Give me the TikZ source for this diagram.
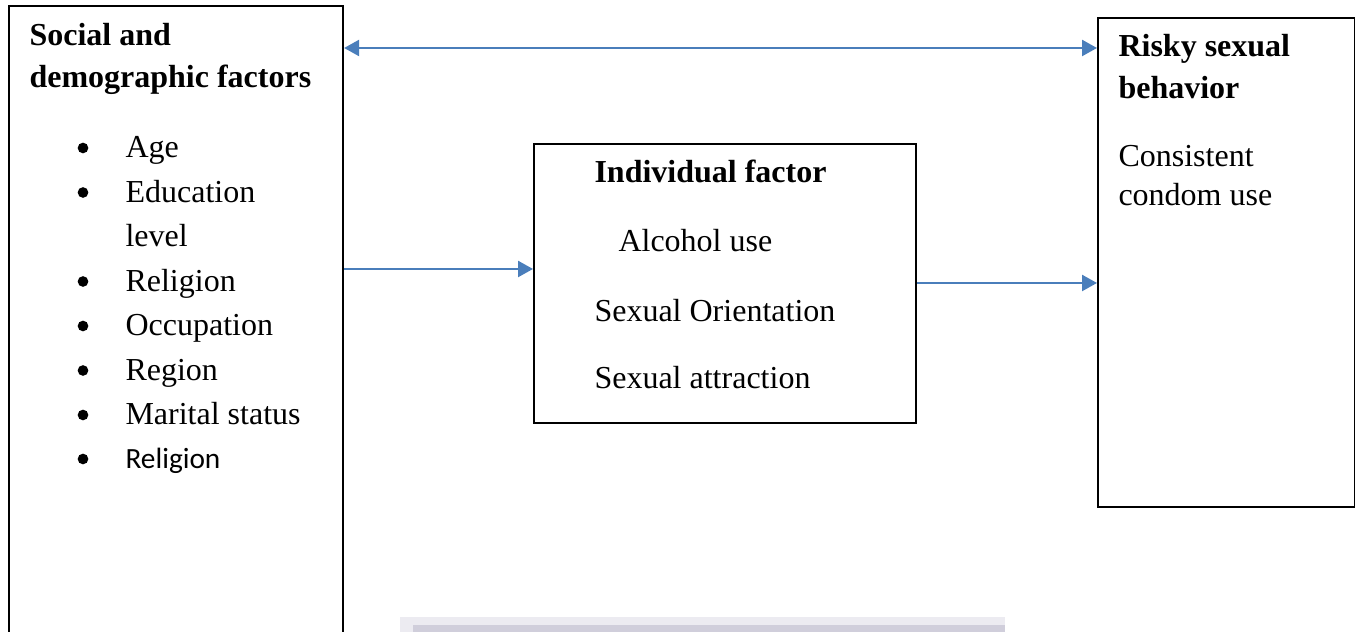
\documentclass[tikz,border=0pt]{standalone}
\usepackage{fontspec}
\setmainfont{Liberation Serif}
\newfontfamily\calibrifont{Carlito}
\usetikzlibrary{arrows.meta}

\definecolor{linkblue}{HTML}{4A7EBB}
\definecolor{barlight}{RGB}{236,235,241}
\definecolor{bardark}{RGB}{208,206,219}

\begin{document}
\begin{tikzpicture}[x=0.375pt, y=-0.375pt, line join=miter,
    box/.style={draw=black, line width=0.8pt, inner sep=0pt, anchor=north west},
    txt/.style={anchor=base west, inner sep=0pt, font=\fontsize{12}{15}\selectfont},
    head/.style={txt, font=\fontsize{12}{15}\selectfont\bfseries},
    link/.style={draw=linkblue, line width=0.8pt, -{Triangle[length=5.6pt, width=6pt]}}]

    \clip (0,0) rectangle (1355,632);

    % --- 1. Boxes ---
    \node[box, minimum width={334*0.375pt}, minimum height={700*0.375pt}] (social) at (8,5) {};
    \node[box, minimum width={382*0.375pt}, minimum height={279*0.375pt}] (indiv) at (533,143) {};
    \node[box, minimum width={257*0.375pt}, minimum height={489*0.375pt}] (risky) at (1097,17) {};

    % --- 2. Social and demographic factors ---
    \node[head] (socialtitle) at (29,46) {Social and};
    \node[head] (socialtitleb) at (29,88) {demographic factors};
    \foreach \y/\t [count=\i] in {158/Age, 202.5/Education, 291.5/Religion,
        336/Occupation, 380.5/Region, 425/Marital status}
    {
        \fill (83,\y-10) circle (2pt);
        \node[txt] (item\i) at (125,\y) {\t};
    }
    \node[txt] (itemlevel) at (125,247) {level};
    \fill (83,459) circle (2pt);
    \node[txt, font=\fontsize{11}{13}\calibrifont] (item7) at (125,469) {Religion};

    % --- 3. Individual factor ---
    \node[head] (indivtitle) at (594,183) {Individual factor};
    \node[txt] (alcohol) at (618,252) {Alcohol use};
    \node[txt] (orient) at (594,322) {Sexual Orientation};
    \node[txt] (attract) at (594,389) {Sexual attraction};

    % --- 4. Risky sexual behavior ---
    \node[head] (riskytitle) at (1118,57) {Risky sexual};
    \node[head] (riskytitleb) at (1118,99) {behavior};
    \node[txt] (consist) at (1118,167) {Consistent};
    \node[txt] (condom) at (1118,206) {condom use};

    % --- 5. Arrows ---
    \coordinate (toprow) at (0,48);
    \coordinate (leftrow) at (0,269);
    \coordinate (rightrow) at (0,283);
    \draw[link, {Triangle[length=5.6pt, width=6pt]}-{Triangle[length=5.6pt, width=6pt]}]
        (social.east |- toprow) -- (risky.west |- toprow);
    \draw[link] (social.east |- leftrow) -- (indiv.west |- leftrow);
    \draw[link] (indiv.east |- rightrow) -- (risky.west |- rightrow);

    % faint bar at the bottom edge
    \fill[barlight] (400,617) rectangle (1005,632);
    \fill[bardark] (413,625) rectangle (1005,632);
\end{tikzpicture}
\end{document}
